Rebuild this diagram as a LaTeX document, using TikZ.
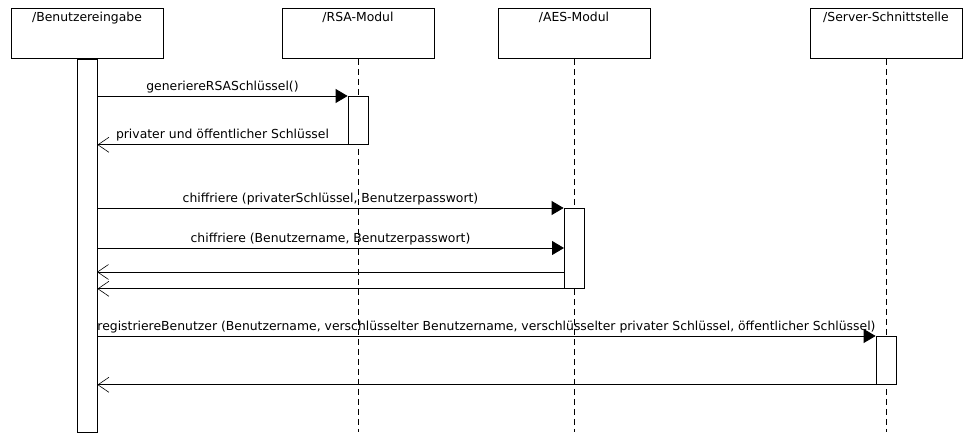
\documentclass[tikz,border=0pt]{standalone}
\usepackage{fontspec}
\setmainfont{DejaVu Sans}
\usetikzlibrary{arrows.meta}

\begin{document}
\begin{tikzpicture}[x=1pt,y=-1pt,font=\fontsize{12.4}{14}\selectfont]
  \tikzset{lifebox/.style = {draw, line width=0.8pt, minimum width=152pt, minimum height=50pt, anchor=north, inner ysep=4pt, text height=9pt, text depth=33pt}}
  \tikzset{actbar/.style = {draw, line width=0.8pt, fill=white, minimum width=20pt, inner sep=0pt, anchor=north}}
  \tikzset{lifeline/.style = {line width=0.8pt, dash pattern=on 6pt off 4pt}}
  \tikzset{call/.style = {line width=0.8pt, -{Triangle[length=12pt,width=14pt]}}}
  \tikzset{reply/.style = {line width=0.8pt, -{Straight Barb[length=11pt,width=15pt,line width=0.6pt]}}}
  \tikzset{msg/.style = {above, inner sep=2pt, text depth=3.5pt}}

\useasboundingbox (0,0) rectangle (971,443);

\node[lifebox] (be)  at (87,8)  {/Benutzereingabe};
\node[lifebox] (rsa) at (358,8) {/RSA-Modul};
\node[lifebox] (aes) at (574,8) {/AES-Modul};
\node[lifebox] (srv) at (886,8) {/Server-Schnittstelle};

\coordinate (rsaend) at (358,432);
\coordinate (aesend) at (574,432);
\coordinate (srvend) at (886,432);

  \draw[lifeline] (rsa) -- (rsaend);
  \draw[lifeline] (aes) -- (aesend);
  \draw[lifeline] (srv) -- (srvend);

\node[actbar, minimum height=373pt] (bebar) at (be.south) {};
\node[actbar, minimum height=48pt] (rsabar) at (358,96) {};
\node[actbar, minimum height=80pt] (aesbar) at (574,208) {};
\node[actbar, minimum height=48pt] (srvbar) at (886,336) {};

\coordinate (b1) at (bebar.east |- rsabar.north);
\coordinate (b2) at (bebar.east |- rsabar.south);
\coordinate (b3) at (bebar.east |- aesbar.north);
\coordinate (b4) at (97,248);
\coordinate (a4) at (564,248);
\coordinate (b5) at (97,272);
\coordinate (a5) at (564,272);
\coordinate (b6) at (bebar.east |- aesbar.south);
\coordinate (b7) at (bebar.east |- srvbar.north);
\coordinate (b8) at (bebar.east |- srvbar.south);

    \path[call](b1) edge node [msg]{generiereRSASchlüssel()} (rsabar.north west);
    \path[reply](rsabar.south west) edge node [msg]{privater und öffentlicher Schlüssel} (b2);

    \path[call](b3) edge node [msg]{chiffriere (privaterSchlüssel, Benutzerpasswort)} (aesbar.north west);
    \path[call](b4) edge node [msg]{chiffriere (Benutzername, Benutzerpasswort)} (a4);
    \path[reply](a5) edge (b5);
    \path[reply](aesbar.south west) edge (b6);

    \path[call](b7) edge node [msg]{registriereBenutzer (Benutzername, verschlüsselter Benutzername, verschlüsselter privater Schlüssel, öffentlicher Schlüssel)} (srvbar.north west);
    \path[reply](srvbar.south west) edge (b8);

\end{tikzpicture}
\end{document}
